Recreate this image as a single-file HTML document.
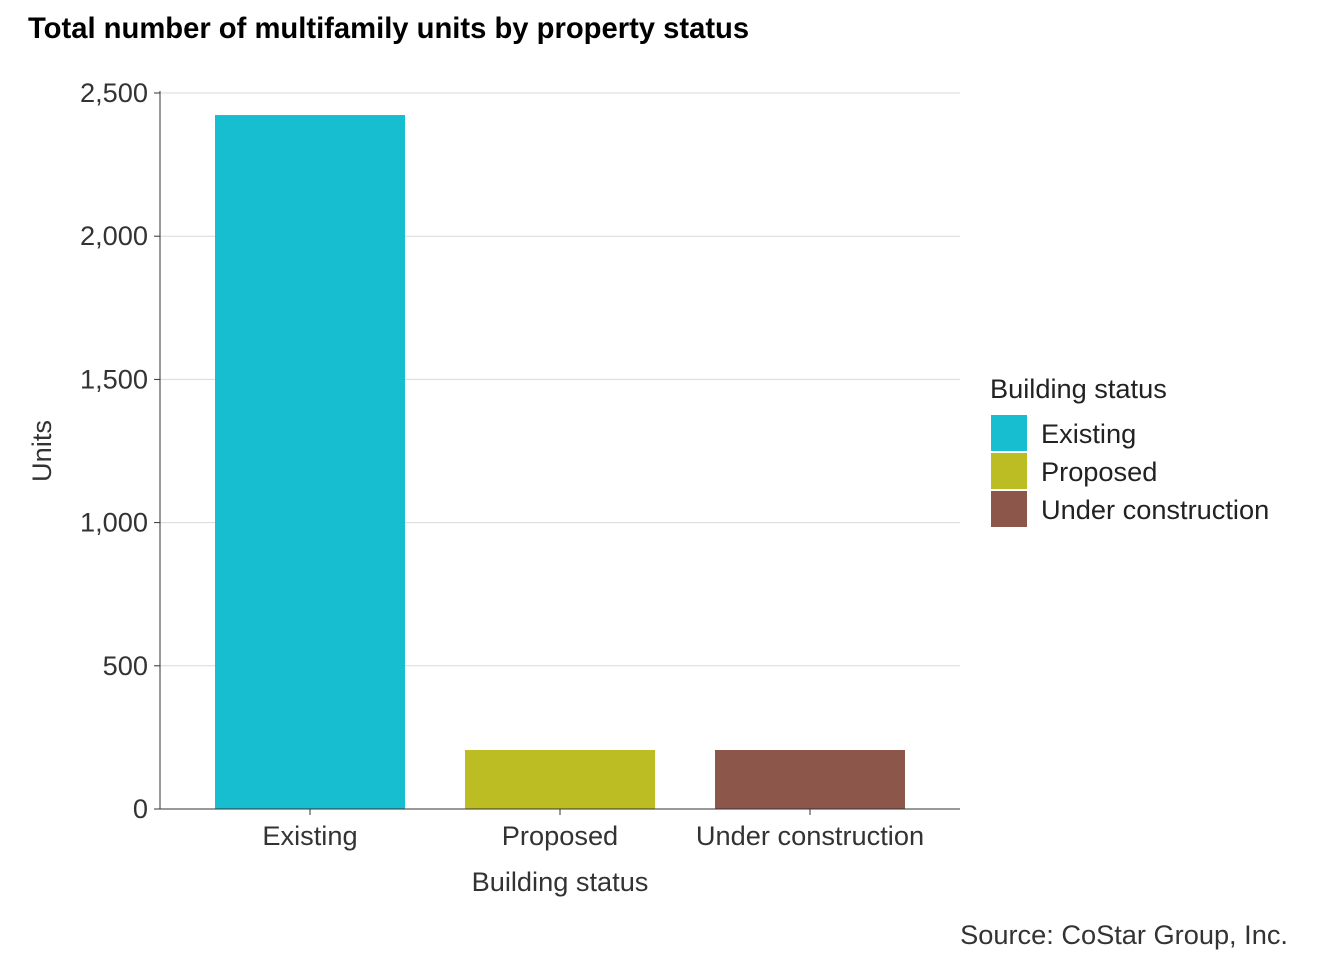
<!DOCTYPE html>
<html><head><meta charset="utf-8">
<style>
body{margin:0;background:#fff;}
svg{display:block;font-family:"Liberation Sans",sans-serif;}
</style></head>
<body>
<svg id="chart" width="1344" height="960">
<text x="28" y="38" font-size="29.2" font-weight="bold" fill="#000">Total number of multifamily units by property status</text>
<g id="grid"></g>
<g id="bars"></g>
<g id="axes"></g>
<text x="0" y="0" transform="translate(51,451) rotate(-90)" text-anchor="middle" font-size="27.2" fill="#333">Units</text>
<text x="560" y="891" text-anchor="middle" font-size="27.2" fill="#333">Building status</text>
<g>
<text x="990" y="398" font-size="27.2" fill="#222">Building status</text>
<g id="legend"></g>
</g>
<text x="1288" y="944" text-anchor="end" font-size="27.2" fill="#333">Source: CoStar Group, Inc.</text>
</svg>
<script>
const categories = ["Existing","Proposed","Under construction"];
const values = [2423, 206, 206];
const colors = ["#17BECF","#BCBD22","#8C564B"];
const yTicks = [0,500,1000,1500,2000,2500];
const yTickLabels = ["0","500","1,000","1,500","2,000","2,500"];

const ns="http://www.w3.org/2000/svg";
const x0=160,x1=960,y0=809,yTop=93,yMax=2500;
const yScale=v=>y0-(y0-yTop)*v/yMax;
const band=(x1-x0)/(categories.length+0.2);
const xCenter=i=>x0+band*(0.6+i);
const bw=band*0.76;
function mk(t,a,p){const e=document.createElementNS(ns,t);for(const k in a)e.setAttribute(k,a[k]);p.appendChild(e);return e;}
const grid=document.getElementById('grid'),bars=document.getElementById('bars'),axes=document.getElementById('axes'),leg=document.getElementById('legend');
yTicks.forEach((v,i)=>{
  const y=yScale(v);
  if(v>0){const g=mk('line',{x1:x0,x2:x1,y1:y,y2:y,stroke:'#d9d9d9','stroke-width':1},grid);
  
  }
  const tk=mk('line',{x1:x0-6,x2:x0,y1:y,y2:y,stroke:'#333'},axes);
  
  
  const t=mk('text',{x:x0-12,y:y+9,'text-anchor':'end','font-size':27.2,fill:'#333'},axes);
  t.textContent=yTickLabels[i];
  
  
});
categories.forEach((c,i)=>{
  const cx=xCenter(i),y=yScale(values[i]);
  const r=mk('rect',{x:cx-bw/2,y:y,width:bw,height:y0-y,fill:colors[i]},bars);
  
  
  const tk=mk('line',{x1:cx,x2:cx,y1:y0,y2:y0+6,stroke:'#333'},axes);
  
  
  const t=mk('text',{x:cx,y:y0+36,'text-anchor':'middle','font-size':27.2,fill:'#333'},axes);
  t.textContent=c;
  
  
  const ly=415+i*38;
  const sw=mk('rect',{x:991,y:ly,width:36,height:36,fill:colors[i]},leg);
  
  
  const lt=mk('text',{x:1041,y:ly+28,'font-size':27.2,fill:'#222'},leg);
  lt.textContent=c;
  
  
});
const ax=mk('line',{x1:x0,x2:x0,y1:yTop-2,y2:y0,stroke:'#333'},axes);


const bx=mk('line',{x1:x0,x2:x1,y1:y0,y2:y0,stroke:'#333'},axes);


</script>
</body></html>
